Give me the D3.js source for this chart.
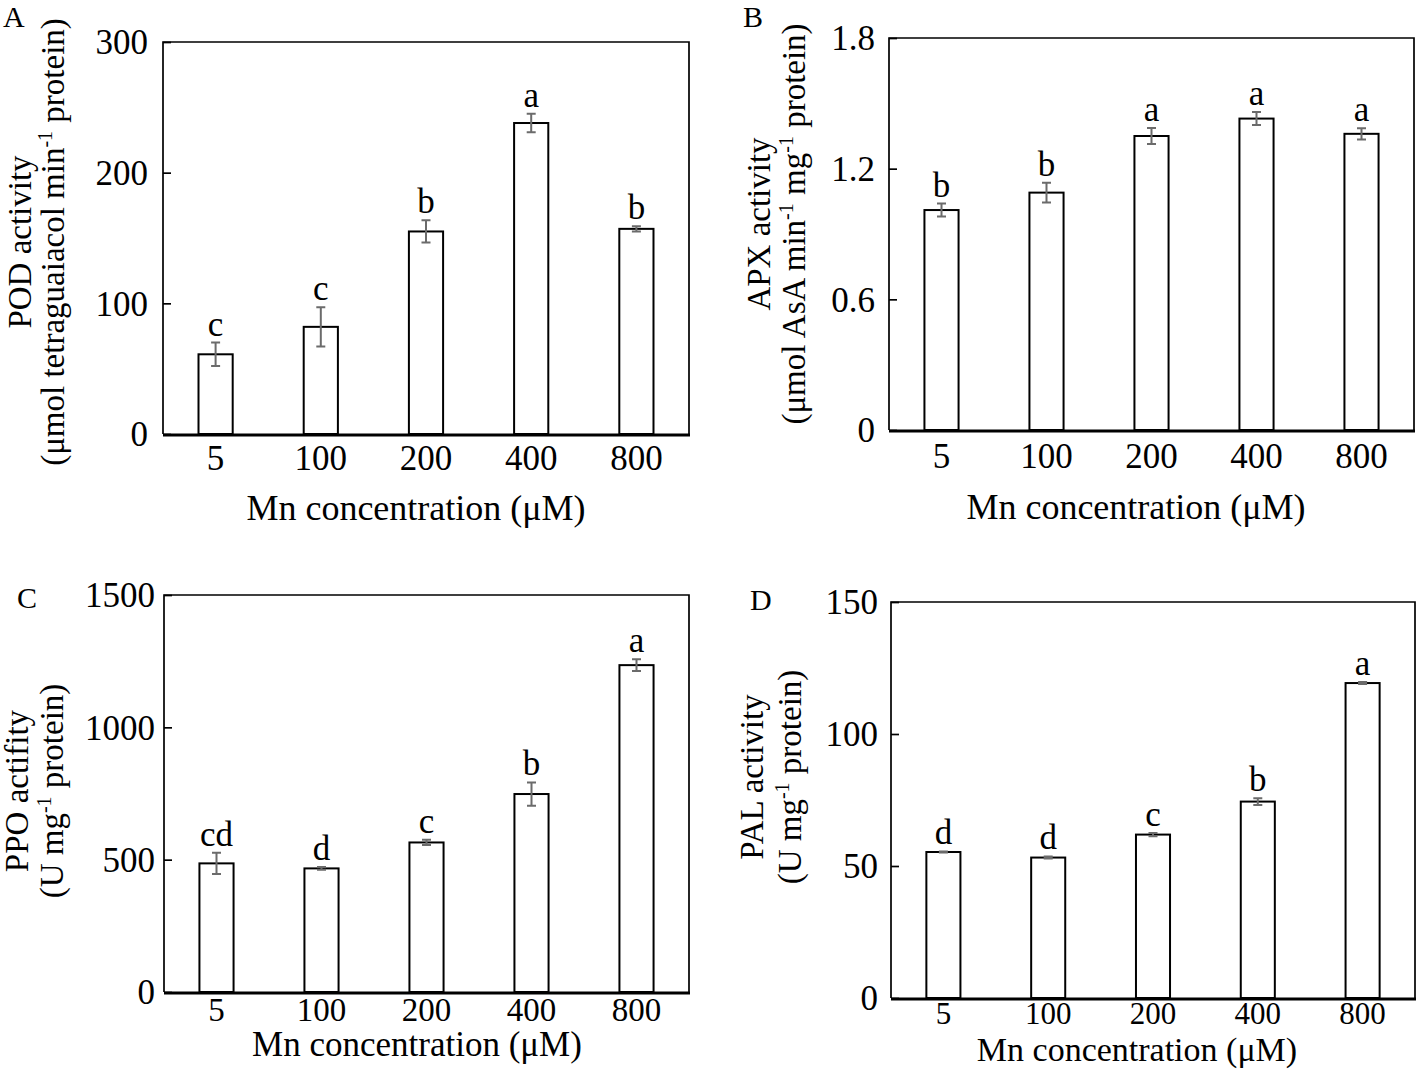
<!DOCTYPE html>
<html>
<head>
<meta charset="utf-8">
<script src="https://cdn.jsdelivr.net/npm/d3@7"></script>
<style>
  html, body { margin: 0; padding: 0; background: #fff; }
  svg { display: block; }
  text { font-family: "Liberation Serif", "Times New Roman", serif; fill: #000; }
</style>
</head>
<body>
<script>
// ---------- data ----------
const categories = ["5", "100", "200", "400", "800"];

const podValues  = [61, 82, 155, 238, 157];
const podErrors  = [9, 15, 8.5, 7, 2];
const podLetters = ["c", "c", "b", "a", "b"];
const podTicks   = [0, 100, 200, 300];

const apxValues  = [1.01, 1.09, 1.35, 1.43, 1.36];
const apxErrors  = [0.03, 0.045, 0.037, 0.03, 0.026];
const apxLetters = ["b", "b", "a", "a", "a"];
const apxTicks   = [0, 0.6, 1.2, 1.8];

const ppoValues  = [486, 467, 565, 748, 1235];
const ppoErrors  = [40, 5, 10, 44, 22];
const ppoLetters = ["cd", "d", "c", "b", "a"];
const ppoTicks   = [0, 500, 1000, 1500];

const palValues  = [55.3, 53.2, 61.9, 74.4, 119.3];
const palErrors  = [0.2, 0.4, 0.6, 1.3, 0.4];
const palLetters = ["d", "d", "c", "b", "a"];
const palTicks   = [0, 50, 100, 150];

const xTitle = "Mn concentration (\u03BCM)";

// ---------- layout ----------
const W = 1418, H = 1078;
const svg = d3.select("body").append("svg").attr("width", W).attr("height", H);

const panels = [
  { tag: "A", tagX: 3, tagY: 27,
    left: 163, top: 42, right: 689, bottom: 434,
    values: podValues, errors: podErrors, letters: podLetters, ticks: podTicks,
    yLabel1: [["POD activity"]],
    yLabel2: [["(\u03BCmol tetraguaiacol min"], ["-1", true], [" protein)"]],
    lab1X: 31, lab2X: 64, labCY: 242, tickGap: 15,
    tickBase: 470, tickFont: 35, titleX: 416, titleY: 520, titleFont: 36 },
  { tag: "B", tagX: 743, tagY: 27,
    left: 889, top: 38, right: 1414, bottom: 430,
    values: apxValues, errors: apxErrors, letters: apxLetters, ticks: apxTicks,
    yLabel1: [["APX activity"]],
    yLabel2: [["(\u03BCmol AsA min"], ["-1", true], [" mg"], ["-1", true], [" protein)"]],
    lab1X: 770, lab2X: 805, labCY: 224, tickGap: 14,
    tickBase: 468, tickFont: 35, titleX: 1136, titleY: 519, titleFont: 36 },
  { tag: "C", tagX: 17, tagY: 608,
    left: 164, top: 595, right: 689, bottom: 992,
    values: ppoValues, errors: ppoErrors, letters: ppoLetters, ticks: ppoTicks,
    yLabel1: [["PPO actifity"]],
    yLabel2: [["(U mg"], ["-1", true], [" protein)"]],
    lab1X: 28, lab2X: 63, labCY: 791, tickGap: 9,
    tickBase: 1021, tickFont: 33, titleX: 417, titleY: 1056, titleFont: 35 },
  { tag: "D", tagX: 750, tagY: 610,
    left: 891, top: 602, right: 1415, bottom: 998,
    values: palValues, errors: palErrors, letters: palLetters, ticks: palTicks,
    yLabel1: [["PAL activity"]],
    yLabel2: [["(U mg"], ["-1", true], [" protein)"]],
    lab1X: 763, lab2X: 801, labCY: 777, tickGap: 13,
    tickBase: 1024, tickFont: 31, titleX: 1137, titleY: 1061, titleFont: 34 }
];

const fmt = d => d === 0 ? "0" : String(d);

panels.forEach(p => {
  const g = svg.append("g");
  const maxT = p.ticks[p.ticks.length - 1];
  const y = d3.scaleLinear().domain([0, maxT]).range([p.bottom, p.top]);
  const x = d3.scaleBand().domain(categories).range([p.left, p.right])
    .paddingInner(0.675).paddingOuter(0.3375);

  // frame (left, top, right)
  g.append("path")
    .attr("d", `M${p.left},${p.bottom}V${p.top}H${p.right}V${p.bottom}`)
    .attr("fill", "none").attr("stroke", "#000").attr("stroke-width", 1.7);

  // bars
  g.selectAll("rect.bar").data(p.values).join("rect")
    .attr("class", "bar")
    .attr("x", (d, i) => x(categories[i]))
    .attr("y", d => y(d))
    .attr("width", x.bandwidth())
    .attr("height", d => y(0) - y(d))
    .attr("fill", "#fff").attr("stroke", "#000").attr("stroke-width", 2);

  // error bars
  const cap = 4.5;
  const eg = g.append("g").attr("stroke", "#6b6b6b").attr("stroke-width", 2).attr("fill", "none");
  p.values.forEach((v, i) => {
    const cx = x(categories[i]) + x.bandwidth() / 2;
    const e = p.errors[i];
    const y1 = y(v + e), y2 = y(v - e);
    eg.append("path").attr("d",
      `M${cx},${y1}V${y2}M${cx - cap},${y1}H${cx + cap}M${cx - cap},${y2}H${cx + cap}`);
  });

  // significance letters
  g.selectAll("text.sig").data(p.letters).join("text")
    .attr("class", "sig")
    .attr("x", (d, i) => x(categories[i]) + x.bandwidth() / 2)
    .attr("y", (d, i) => y(p.values[i] + p.errors[i]) - 7)
    .attr("text-anchor", "middle")
    .attr("font-size", 35)
    .text(d => d);

  // y axis (inward ticks)
  const yAxis = d3.axisRight(y).tickValues(p.ticks).tickSize(8).tickFormat("");
  const ya = g.append("g").attr("transform", `translate(${p.left},0)`).call(yAxis);
  ya.select(".domain").remove();
  ya.selectAll("line").attr("stroke", "#000").attr("stroke-width", 1.7);

  g.selectAll("text.ytick").data(p.ticks).join("text")
    .attr("class", "ytick")
    .attr("x", p.left - p.tickGap)
    .attr("y", d => y(d))
    .attr("dy", "0.35em")
    .attr("text-anchor", "end")
    .attr("font-size", 35)
    .text(fmt);

  // x axis (thick baseline, no ticks)
  const xAxis = d3.axisBottom(x).tickSize(0).tickFormat("");
  const xa = g.append("g").attr("transform", `translate(0,${p.bottom + 1})`).call(xAxis);
  xa.select(".domain").attr("stroke", "#000").attr("stroke-width", 3.2)
    .attr("d", `M${p.left},0H${p.right + 1}`);

  g.selectAll("text.xtick").data(categories).join("text")
    .attr("class", "xtick")
    .attr("x", d => x(d) + x.bandwidth() / 2)
    .attr("y", p.tickBase)
    .attr("text-anchor", "middle")
    .attr("font-size", p.tickFont)
    .text(d => d);

  // x title
  g.append("text")
    .attr("x", p.titleX).attr("y", p.titleY)
    .attr("text-anchor", "middle")
    .attr("font-size", p.titleFont)
    .text(xTitle);

  // y labels (two lines, rotated)
  const addLine = (parts, bx) => {
    const t = g.append("text")
      .attr("transform", `translate(${bx},${p.labCY}) rotate(-90)`)
      .attr("text-anchor", "middle")
      .attr("font-size", 33);
    parts.forEach(([s, sup]) => {
      if (sup) {
        t.append("tspan").attr("font-size", 20).attr("dy", -12).text(s);
      } else {
        const ts = t.append("tspan").text(s);
        if (t.node().childNodes.length > 1) ts.attr("dy", 12);
      }
    });
  };
  addLine(p.yLabel1, p.lab1X);
  addLine(p.yLabel2, p.lab2X);

  // panel tag
  g.append("text")
    .attr("x", p.tagX).attr("y", p.tagY)
    .attr("font-size", 30)
    .text(p.tag);
});
</script>
</body>
</html>
